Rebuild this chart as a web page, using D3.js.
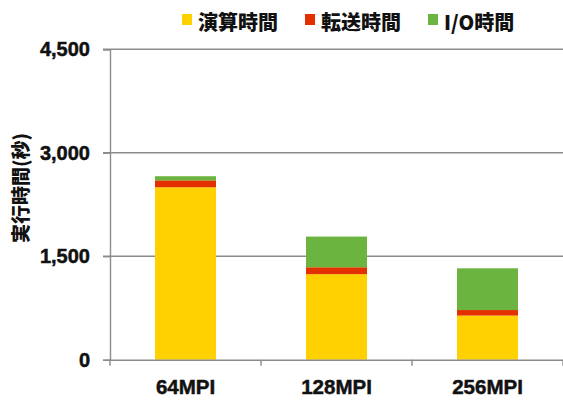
<!DOCTYPE html>
<html>
<head>
<meta charset="utf-8">
<script src="https://cdn.jsdelivr.net/npm/d3@7"></script>
<style>
  body { margin: 0; background: #fff; }
  text { font-family: "Liberation Sans", Arial, "Noto Sans CJK JP", sans-serif; font-weight: bold; fill: #111; }
  .num { stroke: #111; stroke-width: 0.5px; }
  .jp { font-family: "Noto Sans CJK JP", sans-serif; font-weight: 900; }
</style>
</head>
<body>
<script>
// data
let categories = ["64MPI", "128MPI", "256MPI"]
let seriesNames = ["演算時間", "転送時間", "I/O時間"]
let calcTime = [2500, 1240, 640]
let transferTime = [100, 100, 80]
let ioTime = [60, 445, 605]
let yTicks = [0, 1500, 3000, 4500]
let colors = ["#FFD100", "#E23000", "#6BB43F"]

let w = 563, h = 401
let plotLeft = 110, plotRight = 563, plotTop = 49.3, plotBottom = 359.7

let svg = d3.select("body").append("svg")
    .attr("width", w).attr("height", h)

let rows = categories.map((c, i) => ({cat: c, s0: calcTime[i], s1: transferTime[i], s2: ioTime[i]}))
let stack = d3.stack().keys(["s0", "s1", "s2"])(rows)

let x = d3.scaleBand().domain(categories).range([plotLeft, plotRight]).paddingInner(0).paddingOuter(0)
let y = d3.scaleLinear().domain([0, 4500]).range([plotBottom, plotTop])

// gridlines
svg.append("g").selectAll("line")
    .data(yTicks.filter(d => d > 0))
    .enter().append("line")
    .attr("x1", plotLeft - 7).attr("x2", plotRight)
    .attr("y1", d => y(d)).attr("y2", d => y(d))
    .attr("stroke", "#8c8c8c").attr("stroke-width", 1.4)

// bars
let barW = 61
svg.append("g").selectAll("g")
    .data(stack).enter().append("g")
    .attr("fill", (d, i) => colors[i])
    .selectAll("rect")
    .data(d => d).enter().append("rect")
    .attr("x", d => x(d.data.cat) + x.bandwidth() / 2 - barW / 2)
    .attr("width", barW)
    .attr("y", d => y(d[1]))
    .attr("height", d => y(d[0]) - y(d[1]))

// y axis
let yAxis = d3.axisLeft(y).tickValues(yTicks).tickSize(7).tickPadding(13)
    .tickFormat(d3.format(","))
let gy = svg.append("g").attr("transform", "translate(" + plotLeft + ",0)").call(yAxis)
gy.select(".domain").attr("stroke", "#8c8c8c").attr("stroke-width", 1.4)
gy.selectAll(".tick line").attr("stroke", "#8c8c8c").attr("stroke-width", 1.4)
gy.selectAll(".tick text").attr("class", "num").style("font-size", "20px").attr("fill", "#111")

// x axis
let xAxis = d3.axisBottom(x).tickSize(0).tickPadding(0)
let gx = svg.append("g").attr("transform", "translate(0," + plotBottom + ")").call(xAxis)
gx.select(".domain").attr("stroke", "#8c8c8c").attr("stroke-width", 1.4)
gx.selectAll(".tick text").attr("class", "num").style("font-size", "20.5px").attr("y", 34).attr("dy", 0).attr("fill", "#111")
// category separators
gx.selectAll(".sep").data(categories.concat([null])).enter().append("line")
    .attr("x1", (d, i) => plotLeft + i * x.bandwidth())
    .attr("x2", (d, i) => plotLeft + i * x.bandwidth())
    .attr("y1", 0).attr("y2", 6)
    .attr("stroke", "#8c8c8c").attr("stroke-width", 1.4)

// y title
svg.append("text")
    .attr("class", "jp")
    .attr("transform", "translate(28," + 188 + ") rotate(-90)")
    .attr("text-anchor", "middle")
    .style("font-size", "19px")
    .text("実行時間(秒)")

// legend
let legendX = [182, 305, 428]
let lg = svg.append("g").selectAll("g").data(seriesNames).enter().append("g")
    .attr("transform", (d, i) => "translate(" + legendX[i] + ",14)")
lg.append("rect").attr("width", 10).attr("height", 11).attr("fill", (d, i) => colors[i])
lg.append("text").attr("class", "jp")
    .attr("x", 16).attr("y", 16)
    .style("font-size", "20px")
    .text(d => d)
</script>
</body>
</html>
